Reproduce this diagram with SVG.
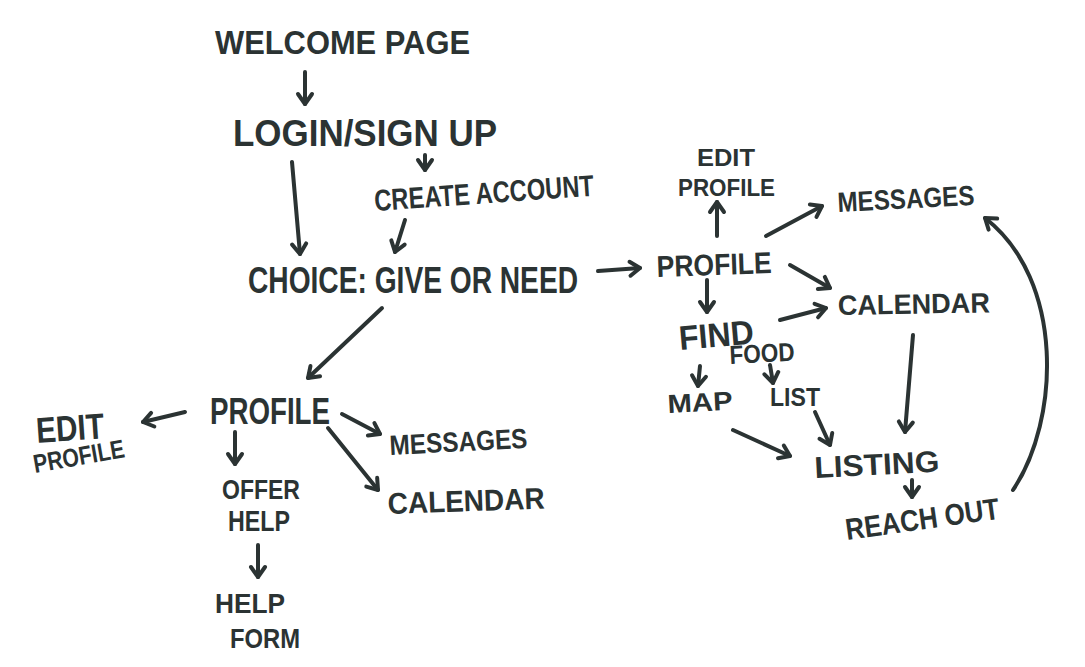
<svg xmlns="http://www.w3.org/2000/svg" width="1085" height="667" viewBox="0 0 1085 667">
<style>
text{font-family:"Liberation Sans","DejaVu Sans",sans-serif;fill:#2b3333;font-weight:bold}
.c path{fill:none;stroke:#2b3333;stroke-width:4;stroke-linecap:round;stroke-linejoin:round}
</style>
<defs>
<marker id="ah" viewBox="0 0 16 16" refX="13" refY="8" markerWidth="16" markerHeight="16" markerUnits="userSpaceOnUse" orient="auto" overflow="visible">
<path d="M3,1 L13,8 L3,15" fill="none" stroke="#2b3333" stroke-width="4" stroke-linecap="round" stroke-linejoin="round"/>
</marker>
</defs>
<rect width="1085" height="667" fill="#fff"/>
<g class="c" id="connectors">
<path d="M305,72 L305,104" marker-end="url(#ah)"/>
<path d="M292,162 L300,254" marker-end="url(#ah)"/>
<path d="M425,155 L425,170" marker-end="url(#ah)"/>
<path d="M405,220 L395,252" marker-end="url(#ah)"/>
<path d="M598,271 L640,268" marker-end="url(#ah)"/>
<path d="M717,236 L717,202" marker-end="url(#ah)"/>
<path d="M766,236 L822,206" marker-end="url(#ah)"/>
<path d="M790,265 L830,288" marker-end="url(#ah)"/>
<path d="M707,280 L707,312" marker-end="url(#ah)"/>
<path d="M780,320 L826,308" marker-end="url(#ah)"/>
<path d="M700,366 L698,386" marker-end="url(#ah)"/>
<path d="M770,365 L773,383" marker-end="url(#ah)"/>
<path d="M733,430 L790,456" marker-end="url(#ah)"/>
<path d="M815,412 L830,445" marker-end="url(#ah)"/>
<path d="M913,335 L905,432" marker-end="url(#ah)"/>
<path d="M912,480 L912,497" marker-end="url(#ah)"/>
<path d="M1013,490 C1060,420 1065,280 985,218" marker-end="url(#ah)"/>
<path d="M382,308 L308,378" marker-end="url(#ah)"/>
<path d="M185,412 L143,422" marker-end="url(#ah)"/>
<path d="M235,432 L235,464" marker-end="url(#ah)"/>
<path d="M258,545 L258,577" marker-end="url(#ah)"/>
<path d="M342,414 L380,434" marker-end="url(#ah)"/>
<path d="M328,428 L378,490" marker-end="url(#ah)"/>
</g>
<g id="welcome"><text x="215" y="54" font-size="34" textLength="255" lengthAdjust="spacingAndGlyphs">WELCOME PAGE</text></g>
<g id="login"><text x="233" y="146" font-size="36" textLength="264" lengthAdjust="spacingAndGlyphs">LOGIN/SIGN UP</text></g>
<g id="create"><text x="375" y="211" font-size="30" textLength="220" lengthAdjust="spacingAndGlyphs" transform="rotate(-4 375 211)">CREATE ACCOUNT</text></g>
<g id="choice"><text x="248" y="293" font-size="36" textLength="330" lengthAdjust="spacingAndGlyphs">CHOICE: GIVE OR NEED</text></g>
<g id="profile-r"><text x="657" y="277" font-size="30" textLength="115" lengthAdjust="spacingAndGlyphs" transform="rotate(-2 657 277)">PROFILE</text></g>
<g id="edit-r"><text x="697" y="166" font-size="24" textLength="58" lengthAdjust="spacingAndGlyphs">EDIT</text><text x="678" y="196" font-size="24" textLength="97" lengthAdjust="spacingAndGlyphs">PROFILE</text></g>
<g id="messages-r"><text x="838" y="212" font-size="28" textLength="137" lengthAdjust="spacingAndGlyphs" transform="rotate(-3 838 212)">MESSAGES</text></g>
<g id="calendar-r"><text x="838" y="315" font-size="28" textLength="152" lengthAdjust="spacingAndGlyphs" transform="rotate(-1 838 315)">CALENDAR</text></g>
<g id="find"><text x="680" y="350" font-size="34" textLength="75" lengthAdjust="spacingAndGlyphs" transform="rotate(-5 680 350)">FIND</text><text x="730" y="364" font-size="26" textLength="65" lengthAdjust="spacingAndGlyphs" transform="rotate(-3 730 364)">FOOD</text></g>
<g id="map"><text x="668" y="413" font-size="26" textLength="65" lengthAdjust="spacingAndGlyphs" transform="rotate(-3 668 413)">MAP</text></g>
<g id="list"><text x="770" y="406" font-size="26" textLength="50" lengthAdjust="spacingAndGlyphs">LIST</text></g>
<g id="listing"><text x="815" y="478" font-size="30" textLength="125" lengthAdjust="spacingAndGlyphs" transform="rotate(-3 815 478)">LISTING</text></g>
<g id="reach"><text x="847" y="540" font-size="30" textLength="155" lengthAdjust="spacingAndGlyphs" transform="rotate(-8 847 540)">REACH OUT</text></g>
<g id="profile-l"><text x="210" y="424" font-size="36" textLength="120" lengthAdjust="spacingAndGlyphs">PROFILE</text></g>
<g id="edit-l"><text x="37" y="443" font-size="36" textLength="68" lengthAdjust="spacingAndGlyphs" transform="rotate(-4 37 443)">EDIT</text><text x="35" y="473" font-size="26" textLength="92" lengthAdjust="spacingAndGlyphs" transform="rotate(-10 35 473)">PROFILE</text></g>
<g id="offer"><text x="222" y="499" font-size="28" textLength="78" lengthAdjust="spacingAndGlyphs">OFFER</text><text x="228" y="531" font-size="30" textLength="62" lengthAdjust="spacingAndGlyphs">HELP</text></g>
<g id="helpform"><text x="215" y="613" font-size="28" textLength="70" lengthAdjust="spacingAndGlyphs">HELP</text><text x="230" y="648" font-size="28" textLength="70" lengthAdjust="spacingAndGlyphs">FORM</text></g>
<g id="messages-l"><text x="390" y="455" font-size="28" textLength="138" lengthAdjust="spacingAndGlyphs" transform="rotate(-3 390 455)">MESSAGES</text></g>
<g id="calendar-l"><text x="388" y="514" font-size="30" textLength="157" lengthAdjust="spacingAndGlyphs" transform="rotate(-2 388 514)">CALENDAR</text></g>
</svg>
